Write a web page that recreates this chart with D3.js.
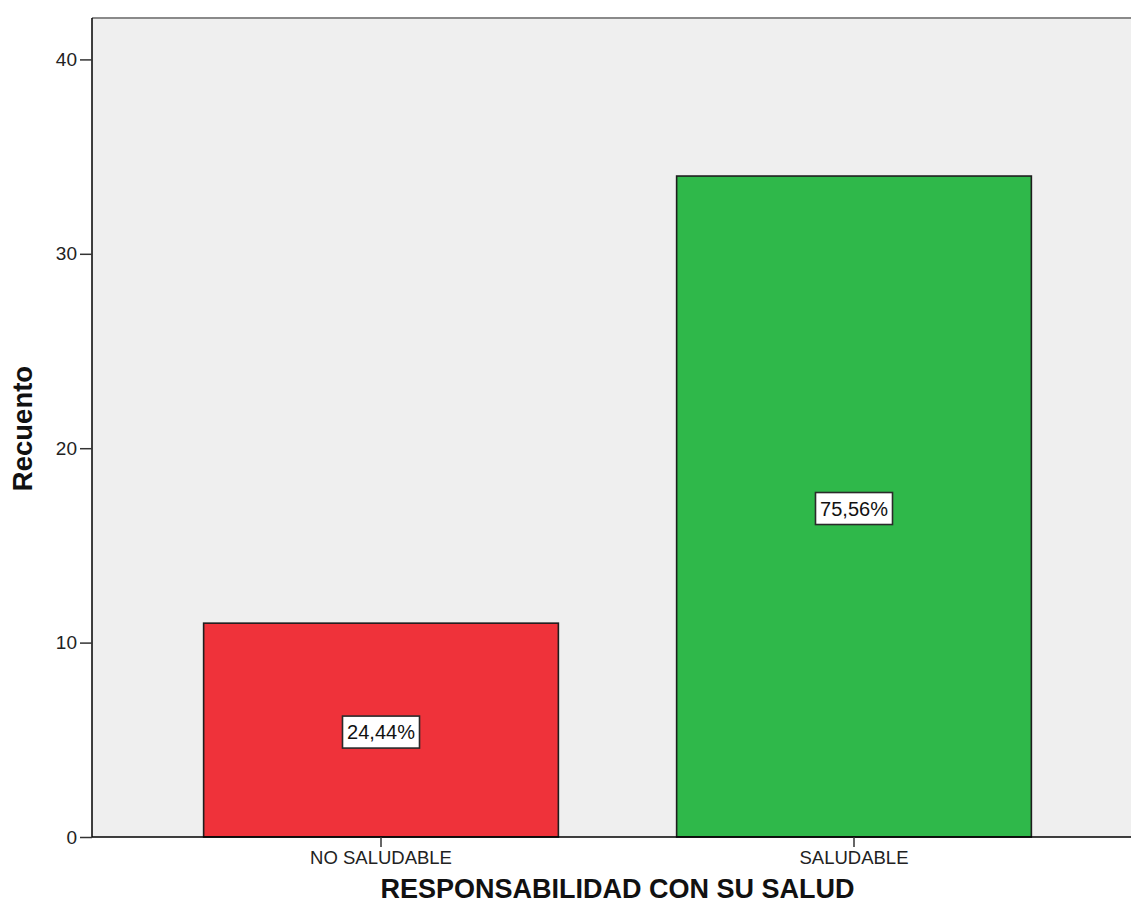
<!DOCTYPE html>
<html>
<head>
<meta charset="utf-8">
<script src="https://cdn.jsdelivr.net/npm/d3@7"></script>
<style>
  html, body { margin: 0; padding: 0; background: #ffffff; }
  svg { display: block; font-family: "Liberation Sans", Arial, sans-serif; }
</style>
</head>
<body>
<svg id="chart" width="1131" height="920"></svg>
<script>
// ---- data ----
const categories = ["NO SALUDABLE", "SALUDABLE"];
const counts = [11, 34];
const percentLabels = ["24,44%", "75,56%"];
const barColors = ["#ef323a", "#2fb84a"];
const yTicks = [0, 10, 20, 30, 40];
const yTitle = "Recuento";
const xTitle = "RESPONSABILIDAD CON SU SALUD";

// ---- layout ----
const W = 1131, H = 920;
const mLeft = 92, mTop = 18, mBottom = 837, rightExt = 1143;

const svg = d3.select("#chart");

const y = d3.scaleLinear().domain([0, 42.13]).range([mBottom, mTop]);
const x = d3.scaleBand().domain(categories).range([mLeft, rightExt])
  .paddingInner(0.25).paddingOuter(0.236);

// plot background
svg.append("rect")
  .attr("x", mLeft).attr("y", mTop)
  .attr("width", W - mLeft).attr("height", mBottom - mTop)
  .attr("fill", "#efefef");

// top border
svg.append("line")
  .attr("x1", mLeft).attr("x2", W)
  .attr("y1", mTop).attr("y2", mTop)
  .attr("stroke", "#8a8a8a").attr("stroke-width", 2);

// bars
const data = categories.map((c, i) => ({ c, v: counts[i], p: percentLabels[i], col: barColors[i] }));
svg.selectAll("rect.bar").data(data).enter().append("rect")
  .attr("class", "bar")
  .attr("x", d => x(d.c))
  .attr("y", d => y(d.v))
  .attr("width", x.bandwidth())
  .attr("height", d => y(0) - y(d.v))
  .attr("fill", d => d.col)
  .attr("stroke", "#1e1e1e")
  .attr("stroke-width", 1.6);

// percent labels
const lab = svg.selectAll("g.lab").data(data).enter().append("g")
  .attr("class", "lab")
  .attr("transform", d => `translate(${x(d.c) + x.bandwidth() / 2},${(y(d.v) + y(0)) / 2 + 2})`);
lab.append("rect")
  .attr("x", -38.5).attr("y", -16)
  .attr("width", 77).attr("height", 32)
  .attr("fill", "#ffffff").attr("stroke", "#2a2a2a").attr("stroke-width", 1.6);
lab.append("text")
  .attr("text-anchor", "middle").attr("dy", "0.36em")
  .attr("font-size", 20).attr("fill", "#111")
  .text(d => d.p);

// y axis
const yAxis = svg.append("g").attr("transform", `translate(${mLeft},0)`)
  .call(d3.axisLeft(y).tickValues(yTicks).tickSize(12).tickPadding(3).tickFormat(d3.format("d")));
yAxis.select(".domain").attr("stroke", "#000").attr("stroke-width", 1.5).attr("d", `M0,${mTop}V${mBottom}`);
yAxis.selectAll(".tick line").attr("stroke", "#333").attr("stroke-width", 1.5);
yAxis.selectAll(".tick text").attr("font-size", 19).attr("fill", "#222")
  .attr("font-family", "'Liberation Sans', Arial, sans-serif");

// x axis
const xAxis = svg.append("g").attr("transform", `translate(0,${mBottom})`)
  .call(d3.axisBottom(x).tickSize(10).tickPadding(4));
xAxis.select(".domain").attr("stroke", "#000").attr("stroke-width", 1.5).attr("d", `M${mLeft},0H${W}`);
xAxis.selectAll(".tick line").attr("stroke", "#333").attr("stroke-width", 1.5);
xAxis.selectAll(".tick text").attr("font-size", 18.5).attr("fill", "#222")
  .attr("font-family", "'Liberation Sans', Arial, sans-serif");

// axis titles
svg.append("text")
  .attr("transform", `translate(32,${(mTop + mBottom) / 2 + 1}) rotate(-90)`)
  .attr("text-anchor", "middle")
  .attr("font-size", 27.5).attr("font-weight", "bold").attr("fill", "#111")
  .text(yTitle);

svg.append("text")
  .attr("x", (mLeft + rightExt) / 2).attr("y", 898)
  .attr("text-anchor", "middle")
  .attr("font-size", 27).attr("font-weight", "bold").attr("fill", "#111")
  .text(xTitle);
</script>
</body>
</html>
